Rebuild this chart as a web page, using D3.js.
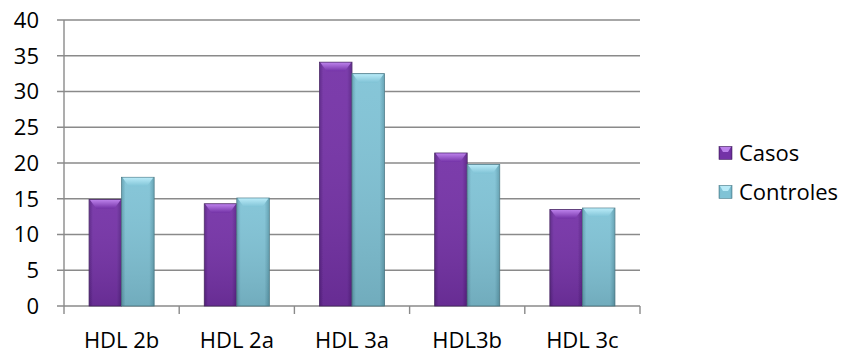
<!DOCTYPE html>
<html>
<head>
<meta charset="utf-8">
<script src="https://cdn.jsdelivr.net/npm/d3@7"></script>
<style>
  html, body { margin: 0; padding: 0; background: #fff; }
  svg { display: block; font-family: "Open Sans", Lato, sans-serif; }
</style>
</head>
<body>
<svg id="chart" width="846" height="354"></svg>
<script>
// Subfracciones de HDL: casos frente a controles
const categories = ["HDL 2b", "HDL 2a", "HDL 3a", "HDL3b", "HDL 3c"];
const seriesNames = ["Casos", "Controles"];
const casos = [14.9, 14.3, 34.1, 21.4, 13.5];
const controles = [18.0, 15.1, 32.5, 19.8, 13.7];
const yTicks = [0, 5, 10, 15, 20, 25, 30, 35, 40];

const seriesValues = [casos, controles];
const palette = [
  { body: "#7433a7", dark: "#5a2286", light: "#bb80ea", edge: "#4b2a66" },
  { body: "#80c3d6", dark: "#5f9fb1", light: "#b8eaf7", edge: "#4f7d8a" }
];

const svg = d3.select("#chart");
const margin = { left: 64, right: 206, top: 20, bottom: 48 };
const W = 846, H = 354;
const plotW = W - margin.left - margin.right;
const plotH = H - margin.top - margin.bottom;

const x = d3.scaleBand().domain(categories).range([0, plotW]).paddingInner(0).paddingOuter(0);
const x1 = d3.scaleBand().domain(seriesNames).range([0, x.bandwidth()]).paddingInner(0).paddingOuter(0.77);
const y = d3.scaleLinear().domain([0, 40]).range([plotH, 0]);

// gradients for the bar bodies
const defs = svg.append("defs");
palette.forEach((p, i) => {
  const g = defs.append("linearGradient").attr("id", "body" + i).attr("x1", 0).attr("x2", 1).attr("y1", 0).attr("y2", 0);
  g.append("stop").attr("offset", "0%").attr("stop-color", p.dark);
  g.append("stop").attr("offset", "12%").attr("stop-color", p.body);
  g.append("stop").attr("offset", "85%").attr("stop-color", p.body);
  g.append("stop").attr("offset", "100%").attr("stop-color", p.dark);
  const v = defs.append("linearGradient").attr("id", "shade" + i).attr("x1", 0).attr("x2", 0).attr("y1", 0).attr("y2", 1);
  v.append("stop").attr("offset", "0%").attr("stop-color", "#fff").attr("stop-opacity", 0.05);
  v.append("stop").attr("offset", "100%").attr("stop-color", "#000").attr("stop-opacity", 0.12);
  const t = defs.append("linearGradient").attr("id", "top" + i).attr("x1", 0).attr("x2", 0).attr("y1", 0).attr("y2", 1);
  t.append("stop").attr("offset", "0%").attr("stop-color", p.light);
  t.append("stop").attr("offset", "100%").attr("stop-color", p.body);
});
const blur = defs.append("filter").attr("id", "soft").attr("x", "-10%").attr("y", "-10%").attr("width", "130%").attr("height", "130%");
blur.append("feGaussianBlur").attr("stdDeviation", 0.5);

const g = svg.append("g").attr("transform", `translate(${margin.left},${margin.top})`);

// horizontal gridlines
g.append("g").selectAll("line").data(yTicks).join("line")
  .attr("x1", -7).attr("x2", plotW)
  .attr("y1", d => y(d)).attr("y2", d => y(d))
  .attr("stroke", "#8a8a8a").attr("stroke-width", 1.4);

// y axis line
g.append("line").attr("x1", 0).attr("x2", 0).attr("y1", 0).attr("y2", plotH)
  .attr("stroke", "#8a8a8a").attr("stroke-width", 1.4);

// y tick labels
g.append("g").selectAll("text").data(yTicks).join("text")
  .attr("x", -25).attr("y", d => y(d)).attr("dy", "0.36em")
  .attr("text-anchor", "end").attr("font-size", 22).attr("fill", "#000")
  .text(d => d);

// category ticks on x axis
const xTickPos = categories.map(c => x(c)).concat([plotW]);
g.append("g").selectAll("line").data(xTickPos).join("line")
  .attr("x1", d => d).attr("x2", d => d)
  .attr("y1", plotH).attr("y2", plotH + 8)
  .attr("stroke", "#8a8a8a").attr("stroke-width", 1.4);

// category labels
g.append("g").selectAll("text").data(categories).join("text")
  .attr("x", c => x(c) + x.bandwidth() / 2).attr("y", plotH + 42)
  .attr("text-anchor", "middle").attr("font-size", 22).attr("fill", "#000")
  .text(c => c);

// bars
const bars = [];
categories.forEach((c, ci) => {
  seriesNames.forEach((s, si) => {
    bars.push({ c, s, si, v: seriesValues[si][ci] });
  });
});

const bw = x1.bandwidth();
const barG = g.append("g").selectAll("g").data(bars).join("g")
  .attr("transform", d => `translate(${x(d.c) + x1(d.s)},0)`);

barG.append("rect")
  .attr("x", 0).attr("y", d => y(d.v))
  .attr("width", bw).attr("height", d => plotH - y(d.v))
  .attr("fill", d => `url(#body${d.si})`)
  .attr("stroke", d => palette[d.si].edge).attr("stroke-width", 0.8)
  .attr("filter", "url(#soft)");
barG.append("rect")
  .attr("x", 0).attr("y", d => y(d.v))
  .attr("width", bw).attr("height", d => plotH - y(d.v))
  .attr("fill", d => `url(#shade${d.si})`);
// bevelled top face
barG.append("path")
  .attr("d", d => {
    const t = y(d.v);
    const inset = bw * 0.22, depth = 9;
    return `M1,${t + 0.5} L${bw - 1},${t + 0.5} L${bw - inset},${t + depth} L${inset},${t + depth} Z`;
  })
  .attr("fill", d => `url(#top${d.si})`);

// legend
const legend = svg.append("g").attr("transform", "translate(719,0)");
const legendY = [153, 192];
seriesNames.forEach((s, i) => {
  const lg = legend.append("g").attr("transform", `translate(0,${legendY[i]})`);
  lg.append("rect").attr("x", 0).attr("y", -6.5).attr("width", 13).attr("height", 13)
    .attr("fill", `url(#body${i})`).attr("stroke", palette[i].edge).attr("stroke-width", 0.6);
  lg.append("path").attr("d", "M1,-6 L12,-6 L9,-1 L4,-1 Z").attr("fill", palette[i].light);
  lg.append("text").attr("x", 20).attr("y", 0).attr("dy", "0.36em")
    .attr("font-size", 22).attr("fill", "#000").text(s);
});
</script>
</body>
</html>
